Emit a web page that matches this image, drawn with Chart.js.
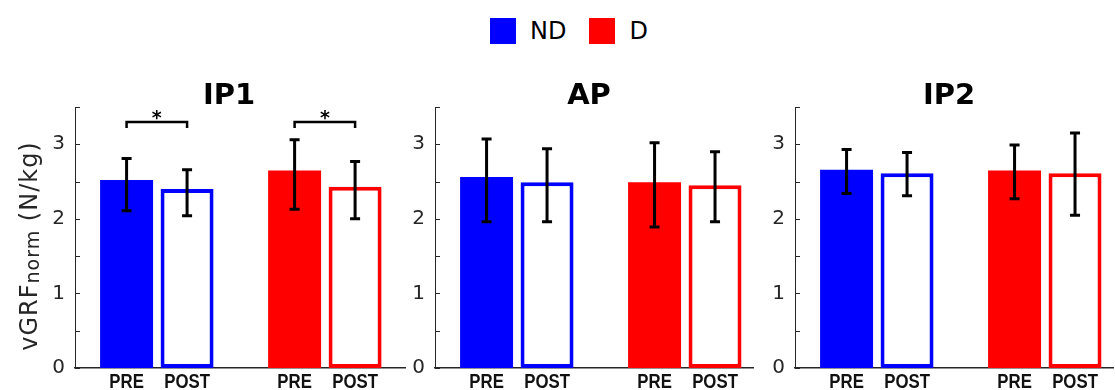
<!DOCTYPE html>
<html>
<head>
  <title>vGRF norm - IP1 / AP / IP2</title>
  <meta charset="UTF-8">
  <script src="https://cdn.jsdelivr.net/npm/chart.js"></script>
  <style>
    body { margin: 0; background: #fff; width: 1115px; height: 390px; position: relative; overflow: hidden; }
    canvas { position: absolute; top: 0; }
    #legend { position: absolute; left: 490px; top: 18px; height: 26px; display: flex; align-items: center;
              font: 24px "DejaVu Sans", sans-serif; color: #000; }
    #legend .sw { width: 26px; height: 26px; margin-right: 14px; }
    #legend .lab { margin-right: 23px; }
  </style>
</head>
<body>
  <div id="legend"></div>
  <canvas id="c0" width="410" height="390" style="left:0px"></canvas>
  <canvas id="c1" width="380" height="390" style="left:380px"></canvas>
  <canvas id="c2" width="375" height="390" style="left:740px"></canvas>

  <script>
    // data (IP1, AP, IP2)
    const panelTitles = ['IP1', 'AP', 'IP2'];
    const groups = ['ND', 'D'];
    const phases = ['PRE', 'POST'];
    const groupColors = ['#0000ff', '#ff0000'];
    const groupPos = [1, 2];

    const preMeanND  = [2.52, 2.56, 2.66];
    const postMeanND = [2.40, 2.49, 2.61];
    const preMeanD   = [2.65, 2.49, 2.65];
    const postMeanD  = [2.43, 2.45, 2.61];

    // error bar ends
    const preHiND  = [2.81, 3.07, 2.93];
    const preLoND  = [2.11, 1.96, 2.34];
    const postHiND = [2.66, 2.94, 2.89];
    const postLoND = [2.04, 1.96, 2.31];
    const preHiD   = [3.06, 3.02, 2.99];
    const preLoD   = [2.13, 1.89, 2.27];
    const postHiD  = [2.77, 2.90, 3.15];
    const postLoD  = [2.00, 1.96, 2.05];

    // PRE vs POST significance (only in IP1, both groups)
    const sigPanel = 0;
    const sigGroups = [0, 1];
    const sigLevel = 3.30;

    const yTicksMax = 3.5;
    const xMin = 0.513;
    const xMax = [2.477, 2.406, 2.406];

    const axisColor = '#262626';

    // legend
    const legendEl = document.getElementById('legend');
    groups.forEach((g, i) => {
      legendEl.innerHTML += '<div class="sw" style="background:' + groupColors[i] + '"></div><div class="lab">' + g + '</div>';
    });

    const panelPlugin = {
      id: 'panelExtras',
      afterDraw(chart, args, opts) {
        const ctx = chart.ctx;
        const area = chart.chartArea;
        const y = chart.scales.y;
        ctx.save();

        // inward tick marks on the y axis
        ctx.strokeStyle = axisColor;
        ctx.lineWidth = 1;
        y.ticks.forEach((t, i) => {
          const py = Math.round(y.getPixelForTick(i)) + 0.5;
          ctx.beginPath();
          ctx.moveTo(area.left, py);
          ctx.lineTo(area.left + 5, py);
          ctx.stroke();
        });

        // error bars
        ctx.strokeStyle = '#000';
        ctx.lineWidth = 3;
        chart.data.datasets.forEach((ds, d) => {
          chart.getDatasetMeta(d).data.forEach((bar, i) => {
            const top = y.getPixelForValue(ds.errHi[i]);
            const bot = y.getPixelForValue(ds.errLo[i]);
            ctx.beginPath();
            ctx.moveTo(bar.x, top); ctx.lineTo(bar.x, bot);
            ctx.moveTo(bar.x - 5, top); ctx.lineTo(bar.x + 5, top);
            ctx.moveTo(bar.x - 5, bot); ctx.lineTo(bar.x + 5, bot);
            ctx.stroke();
          });
        });

        // PRE / POST labels under each bar (condensed bold)
        ctx.fillStyle = '#111';
        ctx.font = 'bold 21px "Liberation Sans", sans-serif';
        ctx.textAlign = 'center';
        ctx.textBaseline = 'alphabetic';
        chart.data.datasets.forEach((ds, d) => {
          chart.getDatasetMeta(d).data.forEach(bar => {
            ctx.save();
            ctx.translate(bar.x, area.bottom + 20);
            ctx.scale(0.8, 1);
            ctx.fillText(phases[d], 0, 0);
            ctx.restore();
          });
        });

        // panel title
        ctx.fillStyle = '#000';
        ctx.font = 'bold 29px "DejaVu Sans", sans-serif';
        ctx.fillText(opts.title, area.left + 154, 104);

        // significance brackets
        if (opts.sig) {
          const by = y.getPixelForValue(sigLevel);
          ctx.strokeStyle = '#000';
          ctx.lineWidth = 2.5;
          ctx.font = 'bold 19px "DejaVu Sans", sans-serif';
          sigGroups.forEach(g => {
            const x1 = chart.getDatasetMeta(0).data[g].x;
            const x2 = chart.getDatasetMeta(1).data[g].x;
            ctx.beginPath();
            ctx.moveTo(x1, by + 6); ctx.lineTo(x1, by); ctx.lineTo(x2, by); ctx.lineTo(x2, by + 6);
            ctx.stroke();
            ctx.fillText('*', (x1 + x2) / 2, by + 2);
          });
        }

        // y axis title with subscript (first panel only)
        if (opts.yTitle) {
          const big = '24px "DejaVu Sans", sans-serif';
          const small = '19px "DejaVu Sans", sans-serif';
          ctx.letterSpacing = '1px';
          ctx.font = big;
          const w1 = ctx.measureText('vGRF').width;
          const w3 = ctx.measureText(' (N/kg)').width;
          ctx.font = small;
          const w2 = ctx.measureText('norm').width;
          const total = w1 + w2 + w3;
          ctx.translate(37, 246 + total / 2);
          ctx.rotate(-Math.PI / 2);
          ctx.textAlign = 'left';
          ctx.fillStyle = axisColor;
          ctx.font = big;
          ctx.fillText('vGRF', 0, 0);
          ctx.font = small;
          ctx.fillText('norm', w1, 2);
          ctx.font = big;
          ctx.fillText(' (N/kg)', w1 + w2, 0);
        }
        ctx.restore();
      }
    };

    function makePanel(p) {
      const preData = [preMeanND[p], preMeanD[p]];
      const postData = [postMeanND[p], postMeanD[p]];
      const yAxisWidth = p === 0 ? 75 : 55;
      const padRight = [5, 7, 2][p];

      new Chart(document.getElementById('c' + p), {
        type: 'bar',
        data: {
          datasets: [
            {
              label: 'PRE',
              data: groupPos.map((x, i) => ({ x: x, y: preData[i] })),
              backgroundColor: groupColors,
              borderWidth: 0,
              errHi: [preHiND[p], preHiD[p]],
              errLo: [preLoND[p], preLoD[p]]
            },
            {
              label: 'POST',
              data: groupPos.map((x, i) => ({ x: x, y: postData[i] })),
              backgroundColor: '#ffffff',
              borderColor: groupColors,
              borderWidth: 4,
              borderSkipped: false,
              errHi: [postHiND[p], postHiD[p]],
              errLo: [postLoND[p], postLoD[p]]
            }
          ]
        },
        options: {
          responsive: false,
          animation: false,
          categoryPercentage: 0.72,
          barPercentage: 0.876,
          layout: { padding: { top: 107, right: padRight, bottom: 0, left: 0 } },
          plugins: {
            legend: { display: false },
            tooltip: { enabled: false },
            panelExtras: { title: panelTitles[p], sig: p === sigPanel, yTitle: p === 0 }
          },
          scales: {
            x: {
              type: 'linear',
              offset: false,
              min: xMin,
              max: xMax[p],
              grid: { display: false, offset: false },
              border: { display: true, color: axisColor, width: 1.5 },
              ticks: { display: false },
              afterBuildTicks: s => { s.ticks = groupPos.map(v => ({ value: v })); },
              afterFit: s => { s.height = 21; }
            },
            y: {
              min: 0,
              max: yTicksMax,
              grid: { display: false, drawTicks: false },
              border: { display: true, color: axisColor, width: 1 },
              ticks: {
                stepSize: 0.5,
                padding: 10,
                color: axisColor,
                font: { family: '"DejaVu Sans", sans-serif', size: 20 },
                callback: v => Number.isInteger(v) ? v : ''
              },
              afterFit: s => { s.width = yAxisWidth; }
            }
          }
        },
        plugins: [panelPlugin]
      });
    }

    panelTitles.forEach((t, p) => makePanel(p));
  </script>
</body>
</html>
